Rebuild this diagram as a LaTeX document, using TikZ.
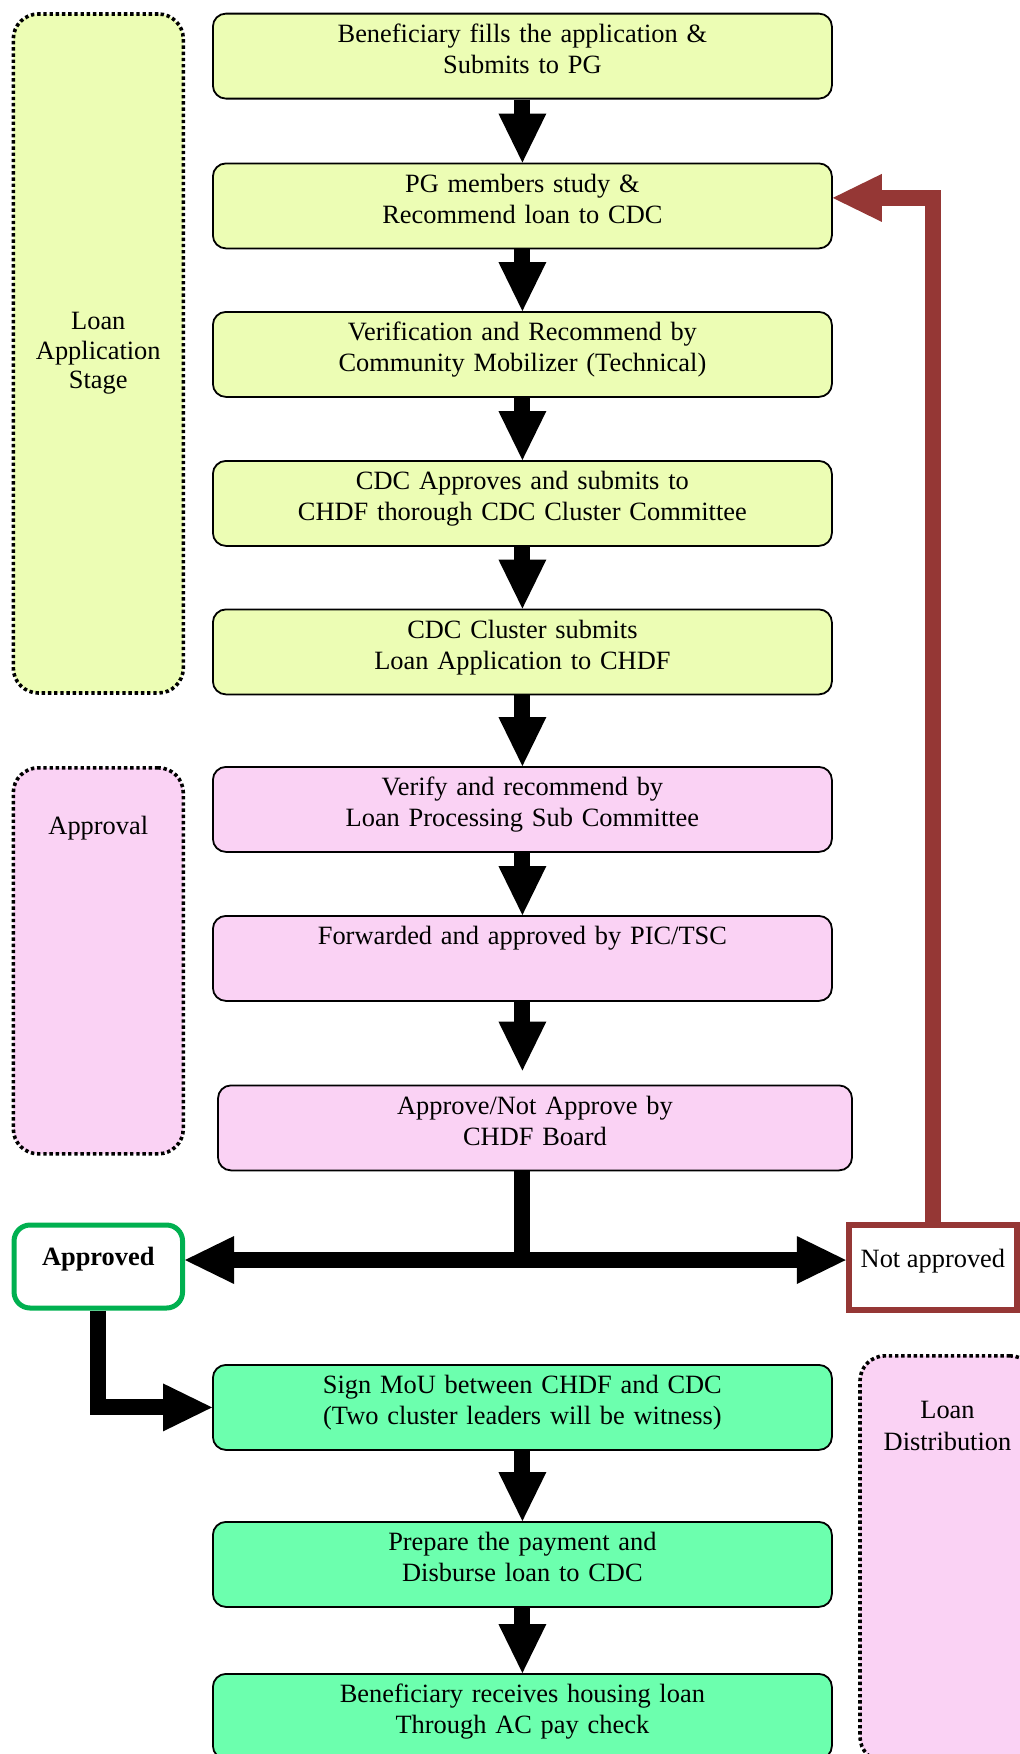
\documentclass[tikz,border=0pt]{standalone}
\usepackage{fontspec}
\setmainfont{Liberation Serif}
\usetikzlibrary{arrows.meta,calc}

\definecolor{stageyellow}{RGB}{236,253,180}
\definecolor{stagepink}{RGB}{250,210,244}
\definecolor{stagemint}{RGB}{108,255,174}
\definecolor{rejectbrown}{RGB}{149,55,53}
\definecolor{acceptgreen}{RGB}{0,176,80}

\tikzset{
  x=1pt, y=-1pt,
  >={Triangle[width=48pt,length=49pt,line width=0pt]},
  txt/.style={font=\fontsize{26.4}{31}\selectfont},
  stepbox/.style={txt, draw=black, line width=1.8pt, rounded corners=13pt,
    anchor=north, minimum width=619pt, text width=600pt, align=center,
    inner xsep=0pt, inner ysep=0pt, text height=29pt, text depth=56pt},
  groupbox/.style={txt, draw=black, line width=3.6pt, dash pattern=on 3.4pt off 2.8pt,
    rounded corners=25pt, align=center, inner sep=0pt},
  fatline/.style={line width=16pt},
  fatarrow/.style={fatline, ->},
}

\begin{document}
\begin{tikzpicture}
\useasboundingbox (0,0) rectangle (1020,1754);

% stage groupings drawn behind the flow
\node[groupbox, fill=stageyellow, minimum width=170pt, minimum height=679pt,
  font=\fontsize{26.4}{29.5}\selectfont] (gapply) at (98.3,353.5)
  {Loan\\Application\\Stage};
\node[groupbox, fill=stagepink, anchor=north, minimum width=170pt,
  text height=67pt, text depth=319pt] (gapprove) at (98.3,766) {Approval};
\node[groupbox, fill=stagepink, anchor=north, minimum width=175pt, text width=170pt,
  font=\fontsize{26.4}{32}\selectfont, text height=63pt, text depth=343pt]
  (gdist) at (947.5,1354) {Loan\\Distribution};

% application stage
\node[stepbox, fill=stageyellow] (b1) at (522.4,12.7)
  {Beneficiary fills the application \&\\Submits to PG};
\node[stepbox, fill=stageyellow] (b2) at (522.4,162.5)
  {PG members study \&\\Recommend loan to CDC};
\node[stepbox, fill=stageyellow] (b3) at (522.4,311)
  {Verification and Recommend by\\Community Mobilizer (Technical)};
\node[stepbox, fill=stageyellow] (b4) at (522.4,460)
  {CDC Approves and submits to\\CHDF thorough CDC Cluster Committee};
\node[stepbox, fill=stageyellow] (b5) at (522.4,608.5)
  {CDC Cluster submits\\Loan Application to CHDF};

% approval stage
\node[stepbox, fill=stagepink] (b6) at (522.4,766)
  {Verify and recommend by\\Loan Processing Sub Committee};
\node[stepbox, fill=stagepink] (b7) at (522.4,915)
  {Forwarded and approved by PIC/TSC};
\node[stepbox, fill=stagepink, minimum width=634pt, text width=615pt] (b8) at (535,1084.5)
  {Approve/Not Approve by\\CHDF Board};

% decision outcomes
\node[txt, draw=acceptgreen, line width=5pt, rounded corners=16pt, fill=white,
  minimum width=168.5pt, inner sep=0pt, text height=40.5pt, text depth=42.5pt,
  anchor=north] (appr) at (98.3,1222.5) {\textbf{Approved}};
\node[txt, draw=rejectbrown, line width=6pt, fill=white,
  minimum width=168.3pt, inner sep=0pt, text height=42pt, text depth=43pt,
  anchor=north] (notappr) at (932.9,1222) {Not approved};

% distribution stage
\node[stepbox, fill=stagemint] (b9) at (522.4,1364)
  {Sign MoU between CHDF and CDC\\(Two cluster leaders will be witness)};
\node[stepbox, fill=stagemint] (b10) at (522.4,1521)
  {Prepare the payment and\\Disburse loan to CDC};
\node[stepbox, fill=stagemint] (b11) at (522.4,1673)
  {Beneficiary receives housing loan\\Through AC pay check};

% main flow
\draw[fatarrow] (b1.south) -- (b2.north);
\draw[fatarrow] (b2.south) -- (b3.north);
\draw[fatarrow] (b3.south) -- (b4.north);
\draw[fatarrow] (b4.south) -- (b5.north);
\draw[fatarrow] (b5.south) -- (b6.north);
\draw[fatarrow] (b6.south) -- (b7.north);
\draw[fatarrow, shorten >=14pt] (b7.south) -- (b7.south |- b8.north);
\draw[fatarrow] (b9.south) -- (b10.north);
\draw[fatarrow] (b10.south) -- (b11.north);

% board decision split
\coordinate (junction) at (522.4,1260);
\draw[fatline] (b8.south -| junction) -- (junction);
\draw[fatline, <->] (appr.east |- junction) -- (notappr.west |- junction);
\draw[fatarrow] (appr.south) |- (b9.west);
\draw[fatarrow, rejectbrown] (notappr.north) |- ($(b2.east)+(0,-8)$);
\end{tikzpicture}
\end{document}
